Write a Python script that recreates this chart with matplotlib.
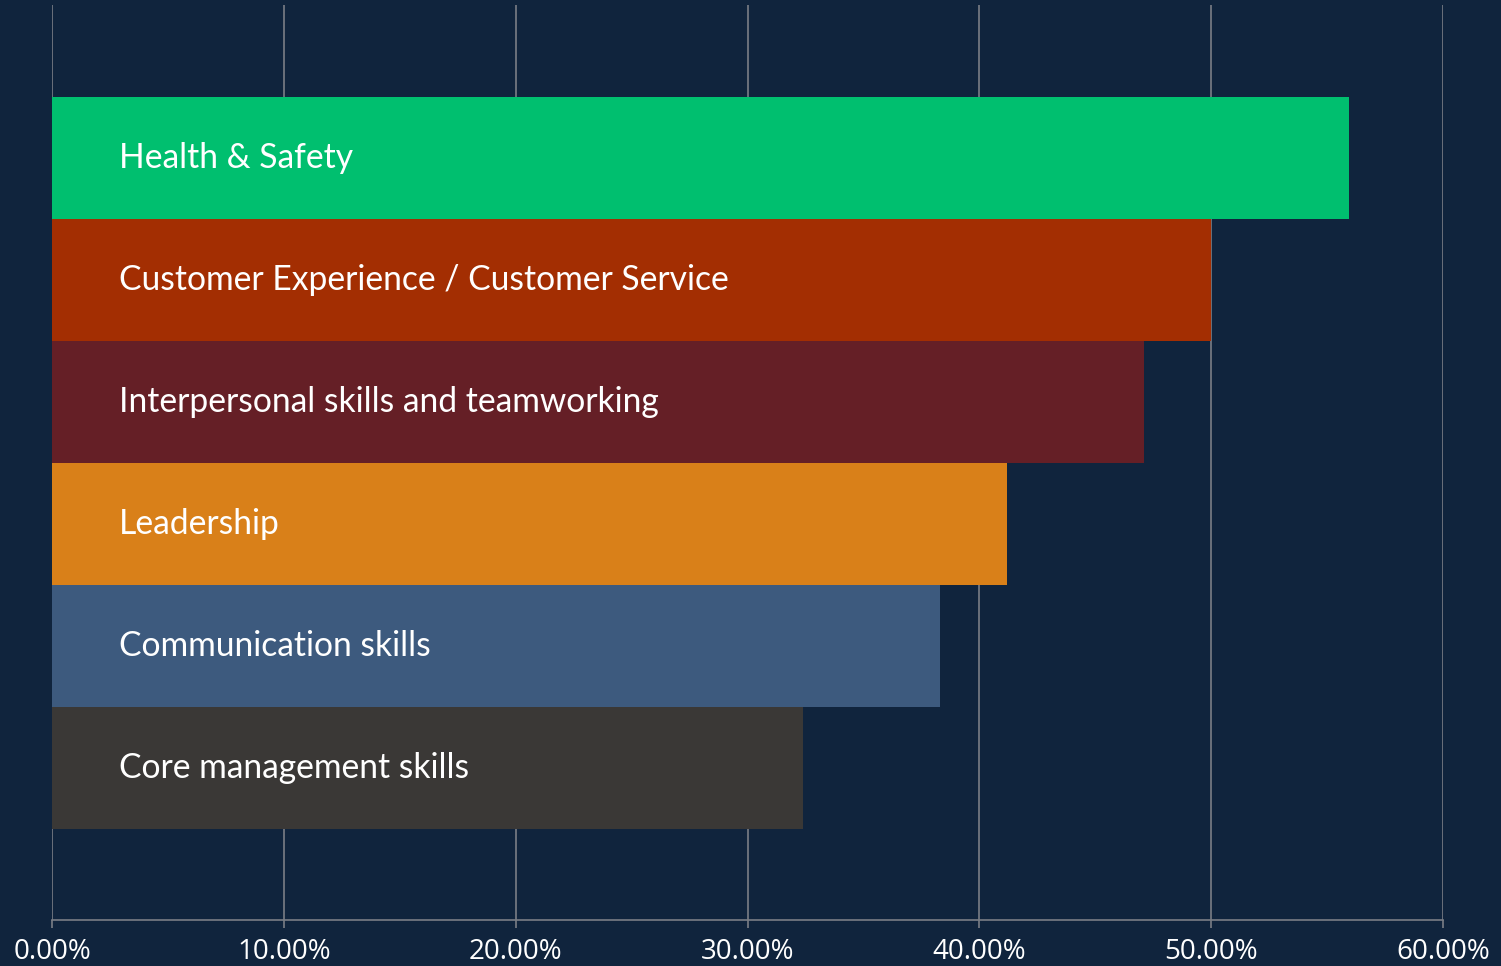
import matplotlib.pyplot as plt
from matplotlib.ticker import FuncFormatter

# training priorities, share of respondents (%)
skills = ['Health & Safety', 'Customer Experience / Customer Service',
          'Interpersonal skills and teamworking', 'Leadership',
          'Communication skills', 'Core management skills']
shares = [55.95, 50.0, 47.1, 41.2, 38.3, 32.4]
bar_colors = ['#00BF6F', '#A32E02', '#651F26', '#D98019', '#3D5A7E', '#3A3836']
ticks = [0, 10, 20, 30, 40, 50, 60]

bg = '#10243D'
grid_col = '#7A7E86'

fig = plt.figure(figsize=(15.01, 9.66), dpi=100, facecolor=bg)
ax = fig.add_axes([52 / 1501, 46 / 966, 1391 / 1501, 915 / 966])
ax.set_facecolor(bg)

pos = list(range(len(skills)))
ax.barh(pos, shares, height=1.0, color=bar_colors, zorder=3)
for p, name in zip(pos, skills):
    ax.text(2.9, p, name, color='white', fontsize=24.2, family='Lato',
            va='center', ha='left', zorder=4)

ax.set_xlim(0, 60)
ax.set_ylim(len(skills) - 0.5 + 0.75, -0.5 - 0.75)
ax.set_xticks(ticks)
ax.xaxis.set_major_formatter(FuncFormatter(lambda v, _: '%.2f%%' % v))
ax.grid(axis='x', color=grid_col, lw=1.2, zorder=0)
ax.set_yticks([])
ax.tick_params(axis='x', colors=grid_col, length=6, width=1.2, pad=7,
               labelcolor='white', labelsize=20)
for lab in ax.get_xticklabels():
    lab.set_family('Open Sans')
for s in ['top', 'right', 'left']:
    ax.spines[s].set_visible(False)
ax.spines['bottom'].set_color(grid_col)
ax.spines['bottom'].set_linewidth(1.2)

fig.savefig('out.png', dpi=100, facecolor=bg)
